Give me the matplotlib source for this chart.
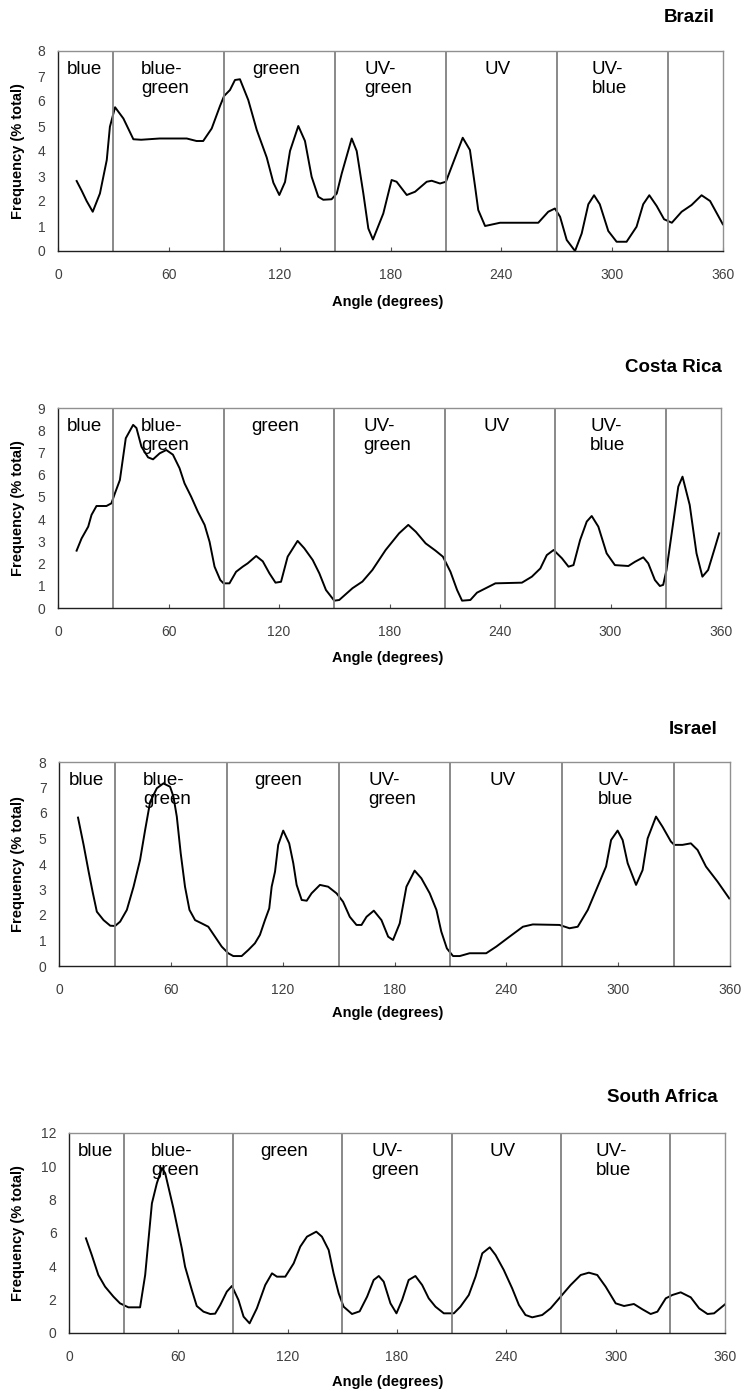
import matplotlib
matplotlib.use("Agg")
import matplotlib.pyplot as plt
import numpy as np

plt.rcParams['font.family'] = ['Liberation Sans', 'DejaVu Sans']

# region boundaries and labels
bounds = [30, 90, 150, 210, 270, 330]
region_names = ['blue', 'blue-\ngreen', 'green', 'UV-\ngreen', 'UV', 'UV-\nblue']
region_x = [5, 45, 105, 166, 231, 289]

brazil_x = [10.1, 12.9, 15.5, 18.8, 22.7, 26.4, 28.1, 30.9, 35.4, 40.8, 45, 55, 65, 69.7, 75, 78.6,
            83.2, 87.7, 89.9, 93.1, 95.8, 98.5, 103, 107.6, 113, 116.6, 119.8, 122.9, 125.6, 130.1,
            133.7, 137.3, 140.9, 143.6, 148.1, 150.9, 153.6, 159, 161.7, 165.3, 168, 170.5, 176.1,
            180.6, 183.3, 188.8, 193.3, 199.6, 202.3, 206.8, 210, 213.1, 219.1, 223, 225.8, 227.5,
            231.2, 239.3, 251.9, 260, 265.4, 269, 271.8, 275.4, 279.9, 283.5, 287.1, 290.2, 293.3,
            297.9, 302.4, 307.8, 313.2, 316.8, 320.1, 324.1, 328.1, 332.3, 337.6, 343, 348.4, 353, 359.9]
brazil_y = [2.8, 2.4, 2.0, 1.57, 2.3, 3.64, 4.97, 5.75, 5.3, 4.47, 4.45, 4.5, 4.5, 4.5, 4.4, 4.4,
            4.9, 5.8, 6.2, 6.44, 6.84, 6.87, 6.04, 4.84, 3.74, 2.73, 2.24, 2.76, 4.0, 5.0,
            4.4, 2.97, 2.17, 2.05, 2.07, 2.3, 3.1, 4.5, 4.0, 2.3, 0.9, 0.46, 1.5,
            2.84, 2.77, 2.24, 2.37, 2.77, 2.81, 2.7, 2.77, 3.37, 4.53, 4.04, 2.57, 1.64,
            1.0, 1.13, 1.13, 1.13, 1.57, 1.7, 1.37, 0.44, 0.0, 0.7, 1.87, 2.23, 1.87,
            0.8, 0.37, 0.37, 0.97, 1.87, 2.23, 1.8, 1.27, 1.13, 1.57, 1.84, 2.23, 2.0, 1.07]

costa_x = [10.1, 12.8, 16.4, 18.2, 20.9, 26.3, 29, 30.9, 33.6, 36.8, 40.8, 42.6, 45.3, 48.9, 51.6,
           55.2, 58.8, 62.4, 66, 68.7, 72.3, 75.9, 79.6, 82.3, 85, 88.1, 89.9, 93.1, 96.7, 100.3,
           103, 107.6, 111.2, 114.8, 118.1, 121.1, 124.7, 130.1, 133.7, 138.3, 141.9, 145.5, 150,
           152.7, 159.9, 165.3, 170.7, 177.9, 185.2, 190.2, 194.3, 199.6, 205, 209, 213.1, 216.7,
           219.4, 223.9, 227.5, 237.5, 251.9, 257.3, 261.9, 265.4, 269.1, 273.6, 277.2, 279.9,
           283.5, 287.1, 289.8, 293.4, 297.9, 302.4, 309.7, 313.3, 317.8, 320.5, 324.1, 326.8,
           328.6, 330.4, 334, 336.8, 339.1, 343, 346.7, 349.9, 353, 356.6, 359]
costa_y = [2.58, 3.13, 3.66, 4.19, 4.59, 4.59, 4.71, 5.16, 5.76, 7.64, 8.24, 8.1, 7.26, 6.78, 6.69,
           6.96, 7.11, 6.9, 6.29, 5.61, 5.01, 4.34, 3.74, 2.98, 1.86, 1.26, 1.11, 1.11, 1.63, 1.86,
           2.01, 2.34, 2.1, 1.56, 1.14, 1.18, 2.31, 3.02, 2.69, 2.16, 1.56, 0.81, 0.33,
           0.36, 0.89, 1.19, 1.71, 2.61, 3.36, 3.74, 3.43, 2.91, 2.58, 2.31, 1.63, 0.81,
           0.33, 0.36, 0.69, 1.11, 1.14, 1.41, 1.78, 2.38, 2.61, 2.24, 1.86, 1.93,
           3.06, 3.89, 4.14, 3.66, 2.46, 1.93, 1.89, 2.08, 2.28, 2.01, 1.26, 0.99,
           1.04, 1.71, 3.81, 5.46, 5.91, 4.64, 2.46, 1.41, 1.71, 2.69, 3.36]

israel_x = [10.2, 13.2, 15.9, 18.2, 20.3, 23.9, 27.5, 30.1, 32.8, 36.4, 40, 43.5, 46.2, 48.9, 52.5,
            56, 59.6, 61.4, 63.2, 65.3, 67.6, 70, 73, 76.6, 80.1, 83.7, 87.3, 90.8, 93.5, 98,
            101.6, 105.1, 107.8, 110.5, 112.8, 114.1, 115.9, 117.6, 120.3, 123.5, 125.7, 127.5,
            130.2, 132.9, 135.5, 140, 144.4, 148.9, 152.4, 156, 159.6, 162.3, 165, 168.9, 173,
            176.6, 179.2, 182.8, 186.4, 190.8, 194.4, 198.9, 202.5, 205.1, 208.1, 211.4, 215,
            220.3, 229.2, 234.6, 241.7, 248.9, 254.2, 268.5, 273.9, 278.3, 283.7, 288.2, 293.5,
            296.2, 299.7, 302.4, 305.1, 309.6, 313.1, 315.8, 320.3, 323.8, 328.3, 330.1, 334.5,
            339, 342.6, 347.1, 353.3, 359.6]
israel_y = [5.82, 4.75, 3.7, 2.85, 2.13, 1.8, 1.58, 1.57, 1.74, 2.2, 3.11, 4.16, 5.33, 6.44, 6.97,
            7.16, 7.03, 6.64, 5.86, 4.42, 3.11, 2.2, 1.8, 1.67, 1.54, 1.15, 0.76, 0.5, 0.39, 0.39,
            0.63, 0.89, 1.22, 1.8, 2.26, 3.11, 3.7, 4.75, 5.31, 4.81, 4.03, 3.18,
            2.59, 2.56, 2.85, 3.18, 3.11, 2.85, 2.52, 1.93, 1.61, 1.61, 1.93, 2.17, 1.8,
            1.15, 1.02, 1.67, 3.11, 3.74, 3.44, 2.85, 2.2, 1.35, 0.69, 0.39, 0.39,
            0.5, 0.5, 0.76, 1.15, 1.54, 1.63, 1.61, 1.48, 1.54, 2.2, 2.98, 3.9,
            4.94, 5.31, 4.94, 4.03, 3.18, 3.76, 5.0, 5.86, 5.46, 4.88, 4.75, 4.75,
            4.81, 4.55, 3.9, 3.31, 2.65]

safrica_x = [9.3, 12.5, 16.1, 19.8, 24.4, 28, 32.6, 39, 41.8, 45.5, 48.2, 51, 52.8, 57.3, 61.9,
             63.7, 67.4, 70.1, 73.8, 77.5, 80.2, 83, 86.6, 89.4, 93, 95.8, 99.1, 103.1, 107.7,
             111.4, 114.1, 118.7, 123.3, 126.9, 130.6, 135.7, 138.8, 142.5, 145.2, 148, 150.7,
             155.3, 159.5, 163.6, 167.2, 170, 172.7, 176.4, 179.7, 182.8, 186.4, 190.1, 193.8,
             197.4, 201.1, 205.7, 211.2, 214.8, 219.4, 223.1, 226.8, 230.9, 234.1, 238.6, 243.2,
             246.9, 250.5, 254.2, 259.7, 264.3, 269.8, 275.3, 280.8, 285.3, 289.9, 294.5, 300,
             304.6, 310, 314.7, 319.2, 322.9, 327.5, 331.1, 335.7, 341.2, 345.8, 350.4, 354, 360]
safrica_y = [5.68, 4.68, 3.48, 2.78, 2.18, 1.78, 1.54, 1.54, 3.48, 7.78, 8.98, 9.9, 9.58, 7.48, 5.08,
             3.98, 2.58, 1.62, 1.28, 1.14, 1.16, 1.68, 2.48, 2.82, 1.98, 0.98, 0.58, 1.48, 2.88,
             3.58, 3.38, 3.38, 4.18, 5.18, 5.78, 6.08, 5.78, 4.98, 3.58, 2.38, 1.58,
             1.14, 1.3, 2.18, 3.18, 3.42, 3.08, 1.78, 1.18, 1.98, 3.18, 3.42, 2.88,
             2.08, 1.58, 1.18, 1.18, 1.58, 2.28, 3.38, 4.78, 5.14, 4.68, 3.78, 2.68,
             1.68, 1.08, 0.94, 1.08, 1.48, 2.18, 2.88, 3.48, 3.62, 3.48, 2.78, 1.78,
             1.62, 1.74, 1.42, 1.14, 1.28, 2.08, 2.28, 2.44, 2.14, 1.48, 1.14, 1.18, 1.72]

countries = ['Brazil', 'Costa Rica', 'Israel', 'South Africa']
xs = [brazil_x, costa_x, israel_x, safrica_x]
ys = [brazil_y, costa_y, israel_y, safrica_y]
ymax = [8, 9, 8, 12]
ystep = [1, 1, 1, 2]

W, H = 743, 1393
fig = plt.figure(figsize=(W / 100, H / 100), dpi=100)

# pixel boxes: left, right, top, bottom of plot area
boxes = [(58, 723, 51, 251), (58, 721, 408, 608), (59, 730, 762, 966), (69, 725, 1133, 1333)]
title_pos = [(715, 18), (722, 368), (718, 729), (718, 1097)]
xlab_y = [302, 658, 1013, 1382]

for i in range(4):
    l, r, t, b = boxes[i]
    ax = fig.add_axes([l / W, 1 - b / H, (r - l) / W, (b - t) / H])
    ax.plot(xs[i], ys[i], color='black', lw=1.4, solid_joinstyle='round')
    for bx in bounds:
        ax.axvline(bx, color='#808080', lw=1.3)
    for nm, rx in zip(region_names, region_x):
        ax.annotate(nm, xy=(rx, 1), xycoords=('data', 'axes fraction'),
                    xytext=(0, -7.5), textcoords='offset points',
                    ha='left', va='top', fontsize=13.5, linespacing=1.15)
    ax.set_xlim(0, 360)
    ax.set_ylim(0, ymax[i])
    ax.set_xticks(np.arange(0, 361, 60))
    ax.set_yticks(np.arange(0, ymax[i] + 0.1, ystep[i]))
    ax.tick_params(axis='x', direction='in', length=3, width=0.8, pad=12,
                   labelsize=10, labelcolor='#404040', color='#555555')
    ax.tick_params(axis='y', length=0, pad=9, labelsize=10, labelcolor='#404040')
    ax.spines['top'].set_color('#909090')
    ax.spines['right'].set_color('#909090')
    ax.spines['left'].set_color('#202020')
    ax.spines['bottom'].set_color('#202020')
    for s in ax.spines.values():
        s.set_linewidth(1.0)

    fig.text(title_pos[i][0] / W, 1 - title_pos[i][1] / H, countries[i],
             ha='right', va='center', fontsize=13.5, fontweight='bold')
    fig.text(388 / W, 1 - xlab_y[i] / H, 'Angle (degrees)',
             ha='center', va='center', fontsize=10.5, fontweight='bold')
    fig.text(18 / W, 1 - ((t + b) / 2) / H, 'Frequency (% total)', rotation=90,
             ha='center', va='center', fontsize=10.5, fontweight='bold')

fig.savefig('out.png', dpi=100)
